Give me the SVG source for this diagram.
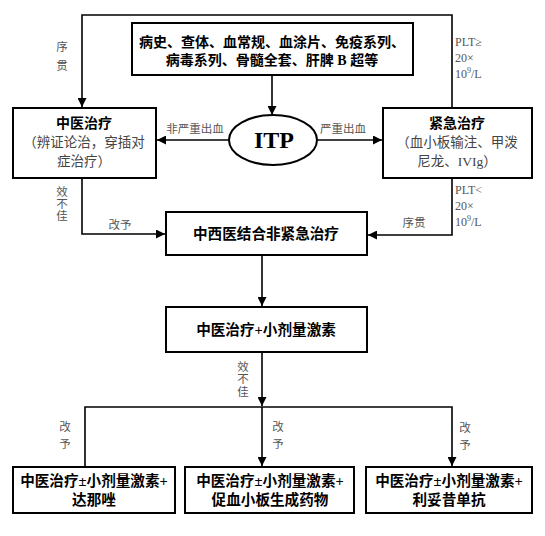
<svg xmlns="http://www.w3.org/2000/svg" width="545" height="536" viewBox="0 0 545 536">
<style>
.box{fill:#fff;stroke:#000;stroke-width:2}
.ln{fill:none;stroke:#000;stroke-width:1.6}
.b{font-family:"Liberation Serif","Noto Sans CJK SC",serif;font-weight:bold;font-size:14px;fill:#000;text-anchor:middle}
.bb{font-family:"Liberation Serif","Noto Sans CJK SC",serif;font-weight:bold;font-size:14.6px;fill:#000;text-anchor:middle}
.n{font-family:"Liberation Serif","Noto Sans CJK SC",serif;font-size:13.5px;fill:#444;text-anchor:middle}
.l{font-family:"Liberation Serif","Noto Sans CJK SC",serif;font-size:11.5px;fill:#555;text-anchor:middle}
.la{font-family:"Liberation Serif","Noto Sans CJK SC",serif;font-size:12px;fill:#555;text-anchor:start}
</style>
<defs>
<marker id="ar" viewBox="0 0 10 10" refX="10" refY="5" markerWidth="9" markerHeight="9" markerUnits="userSpaceOnUse" orient="auto">
<path d="M0,0 L10,5 L0,10 z" fill="#000"/>
</marker>
</defs>
<rect width="545" height="536" fill="#fff"/>
<g id="connectors">
<path class="ln" d="M452,108 V15 H82 V107" marker-end="url(#ar)"/>
<path class="ln" d="M272,75 V115" marker-end="url(#ar)"/>
<path class="ln" d="M229,140 H157" marker-end="url(#ar)"/>
<path class="ln" d="M317,140 H382" marker-end="url(#ar)"/>
<path class="ln" d="M82,178 V234 H165" marker-end="url(#ar)"/>
<path class="ln" d="M452,178 V235 H368" marker-end="url(#ar)"/>
<path class="ln" d="M262,255 V306" marker-end="url(#ar)"/>
<path class="ln" d="M262,352 V406" marker-end="url(#ar)"/>
<path class="ln" d="M85,466 V407 H452 V466" marker-end="url(#ar)"/>
<path class="ln" d="M262,407 V466" marker-end="url(#ar)"/>
<text class="l" x="62" y="51">序</text>
<text class="l" x="62" y="70">贯</text>
<text class="la" x="455" y="46">PLT≥</text>
<text class="la" x="455" y="62">20×</text>
<text class="la" x="455" y="78">10<tspan font-size="8" dy="-5">9</tspan><tspan dy="5">/L</tspan></text>
<text class="l" x="195" y="133">非严重出血</text>
<text class="l" x="343" y="133">严重出血</text>
<text class="l" x="62" y="196">效</text>
<text class="l" x="62" y="208">不</text>
<text class="l" x="62" y="220">佳</text>
<text class="l" x="120" y="229">改予</text>
<text class="l" x="414" y="227">序贯</text>
<text class="la" x="455" y="194">PLT&lt;</text>
<text class="la" x="455" y="210">20×</text>
<text class="la" x="455" y="226">10<tspan font-size="8" dy="-5">9</tspan><tspan dy="5">/L</tspan></text>
<text class="l" x="243" y="371">效</text>
<text class="l" x="243" y="383">不</text>
<text class="l" x="243" y="396">佳</text>
<text class="l" x="65" y="431">改</text>
<text class="l" x="65" y="448">予</text>
<text class="l" x="278" y="431">改</text>
<text class="l" x="278" y="448">予</text>
<text class="l" x="465" y="432">改</text>
<text class="l" x="465" y="449">予</text>
</g>
<g id="exam">
<rect class="box" x="132" y="23" width="281" height="52"/>
<text class="b" x="272" y="47">病史、查体、血常规、血涂片、免疫系列、</text>
<text class="b" x="272" y="65">病毒系列、骨髓全套、肝脾 B 超等</text>
</g>
<g id="itp">
<ellipse cx="273" cy="140" rx="44" ry="25" fill="#fff" stroke="#000" stroke-width="2"/>
<text class="b" x="274" y="148" style="font-size:24px">ITP</text>
</g>
<g id="tcm">
<rect class="box" x="13" y="108" width="143" height="70"/>
<text class="b" x="84" y="128">中医治疗</text>
<text class="n" x="84" y="147">（辨证论治，穿插对</text>
<text class="n" x="84" y="166">症治疗）</text>
</g>
<g id="emergency">
<rect class="box" x="383" y="108" width="149" height="70"/>
<text class="b" x="457" y="128">紧急治疗</text>
<text class="n" x="457" y="147">（血小板输注、甲泼</text>
<text class="n" x="457" y="166">尼龙、IVIg）</text>
</g>
<g id="combined">
<rect class="box" x="166" y="212" width="201" height="43"/>
<text class="bb" x="266" y="239">中西医结合非紧急治疗</text>
</g>
<g id="tcm-steroid">
<rect class="box" x="166" y="307" width="201" height="45"/>
<text class="bb" x="266" y="335">中医治疗+小剂量激素</text>
</g>
<g id="danazol">
<rect class="box" x="13" y="467" width="162" height="46"/>
<text class="bb" x="94" y="486">中医治疗±小剂量激素+</text>
<text class="bb" x="94" y="505">达那唑</text>
</g>
<g id="tpo">
<rect class="box" x="185" y="467" width="169" height="46"/>
<text class="bb" x="270" y="486">中医治疗±小剂量激素+</text>
<text class="bb" x="270" y="505">促血小板生成药物</text>
</g>
<g id="rituximab">
<rect class="box" x="366" y="467" width="166" height="46"/>
<text class="bb" x="449" y="486">中医治疗±小剂量激素+</text>
<text class="bb" x="449" y="505">利妥昔单抗</text>
</g>
</svg>
